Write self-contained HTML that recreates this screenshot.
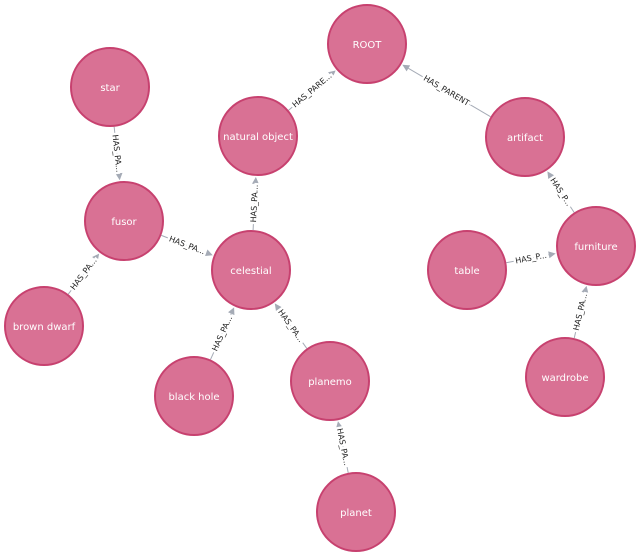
<!DOCTYPE html>
<html><head><meta charset="utf-8"><style>
html,body{margin:0;padding:0;background:#fff;width:640px;height:556px;overflow:hidden}
svg{display:block;font-family:"DejaVu Sans","Liberation Sans",sans-serif}
</style></head><body>
<svg id="s" width="640" height="556" viewBox="0 0 640 556"></svg>
<script>
const N={ROOT:[367,44],star:[110,87],"natural object":[258,136],artifact:[525,137],fusor:[124,221],celestial:[251,270],table:[467,270],furniture:[596,246],"brown dwarf":[44,326],"black hole":[194,396],planemo:[330,381],wardrobe:[565,377],planet:[356,512]};
const E=[["natural object","ROOT","HAS_PARE..."],["artifact","ROOT","HAS_PARENT"],["star","fusor","HAS_PA..."],["fusor","celestial","HAS_PA..."],["brown dwarf","fusor","HAS_PA..."],["celestial","natural object","HAS_PA..."],["black hole","celestial","HAS_PA..."],["planemo","celestial","HAS_PA..."],["planet","planemo","HAS_PA..."],["furniture","artifact","HAS_P..."],["table","furniture","HAS_P..."],["wardrobe","furniture","HAS_PA..."]];
const R=40;let h='';
for(const [a,b,l] of E){const [x1,y1]=N[a],[x2,y2]=N[b];const dx=x2-x1,dy=y2-y1,d=Math.hypot(dx,dy),ux=dx/d,uy=dy/d;
const sx=x1+ux*R,sy=y1+uy*R,ex=x2-ux*(R+1),ey=y2-uy*(R+1);
const lx=ex-ux*7,ly=ey-uy*7;
h+=`<line x1="${sx}" y1="${sy}" x2="${lx}" y2="${ly}" stroke="#a5abb6" stroke-width="1"/>`;
const px=-uy,py=ux;
h+=`<polygon points="${ex},${ey} ${lx+px*3.5},${ly+py*3.5} ${lx-px*3.5},${ly-py*3.5}" fill="#a5abb6"/>`;
let ang=Math.atan2(dy,dx)*180/Math.PI;if(ang>90)ang-=180;if(ang<-90)ang+=180;
const mx=(sx+ex)/2,my=(sy+ey)/2;
h+=`<text x="${mx}" y="${my}" transform="rotate(${ang} ${mx} ${my})" font-size="8" text-anchor="middle" dominant-baseline="central" fill="#222" stroke="#fff" stroke-width="5" paint-order="stroke">${l}</text>`;}
for(const k in N){const [x,y]=N[k];h+=`<circle cx="${x}" cy="${y}" r="${R-1}" fill="#d97194" stroke="#c7416f" stroke-width="2"/><text x="${x}" y="${y+1.5}" font-size="10" text-anchor="middle" dominant-baseline="central" fill="#fff">${k}</text>`;}
document.getElementById('s').innerHTML=h;
</script>
</body></html>
